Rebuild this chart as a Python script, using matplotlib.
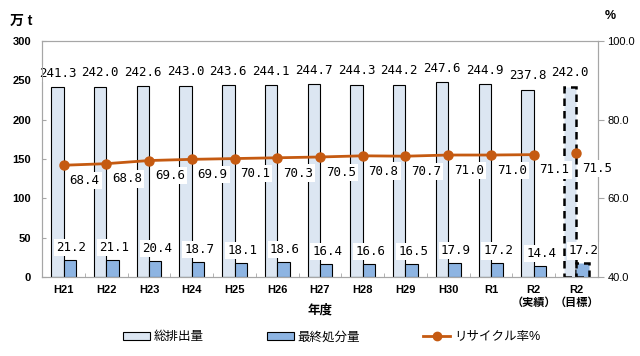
import numpy as np
import matplotlib
matplotlib.use("Agg")
import matplotlib.pyplot as plt
from matplotlib.patches import Patch
from matplotlib.lines import Line2D

years = ["H21", "H22", "H23", "H24", "H25", "H26", "H27", "H28", "H29", "H30", "R1",
         "R2\n（実績）", "R2\n（目標）"]
total = [241.3, 242.0, 242.6, 243.0, 243.6, 244.1, 244.7, 244.3, 244.2, 247.6, 244.9, 237.8, 242.0]
final = [21.2, 21.1, 20.4, 18.7, 18.1, 18.6, 16.4, 16.6, 16.5, 17.9, 17.2, 14.4, 17.2]
rate = [68.4, 68.8, 69.6, 69.9, 70.1, 70.3, 70.5, 70.8, 70.7, 71.0, 71.0, 71.1]
rate_target = 71.5

plt.rcParams["font.family"] = ["Liberation Sans", "Noto Sans CJK JP"]

c_total = "#dce6f2"
c_final = "#8db4e2"
c_line = "#c55a11"
c_spine = "#a6a6a6"
lab_font = ["DejaVu Sans Mono", "Noto Sans CJK JP"]
box = dict(facecolor="white", edgecolor="none", pad=1.5)

fig = plt.figure(figsize=(6.4, 3.56), dpi=100)
ax = fig.add_axes([0.066, 0.222, 0.868, 0.663])
ax2 = ax.twinx()

x = np.arange(len(years))
w = 0.29
n = len(years) - 1  # last one is the target

# actual bars
ax.bar(x[:n] - w / 2, total[:n], w, color=c_total, edgecolor="black", linewidth=0.8, zorder=2)
ax.bar(x[:n] + w / 2, final[:n], w, color=c_final, edgecolor="black", linewidth=0.8, zorder=2)
# target bars (dashed)
ax.bar(x[n] - w / 2, total[n], w, color=c_total, edgecolor="black", linewidth=1.8,
       linestyle=(0, (3, 2)), zorder=2)
ax.bar(x[n] + w / 2, final[n], w, color=c_final, edgecolor="black", linewidth=1.8,
       linestyle=(0, (3, 2)), zorder=2)

for i in range(len(years)):
    ax.annotate(f"{total[i]:.1f}", (x[i] - w / 2, total[i]), xytext=(0, 10),
                textcoords="offset points", ha="center", va="center", fontsize=9,
                family=lab_font, bbox=box, zorder=4)
    ax.annotate(f"{final[i]:.1f}", (x[i] + w / 2, final[i]), xytext=(1, 9),
                textcoords="offset points", ha="center", va="center", fontsize=9,
                family=lab_font, bbox=box, zorder=4)

ax.set_ylim(0, 300)
ax.set_yticks(range(0, 301, 50))
ax.set_xlim(-0.5, len(years) - 0.5)
ax.set_xticks(x)
ax.set_xticklabels(years, fontsize=8, fontweight="bold")
ax.set_xticks(np.arange(0.5, len(years) - 1, 1), minor=True)
ax.tick_params(axis="x", which="major", length=0, pad=6)
ax.tick_params(axis="x", which="minor", length=3, direction="in", color=c_spine)
ax.tick_params(axis="y", labelsize=8, length=3, direction="in", color=c_spine, pad=8)
for lab in ax.get_yticklabels():
    lab.set_fontweight("bold")

# recycle rate line
ax2.plot(x[:n], rate, color=c_line, linewidth=2, marker="o", markersize=6.5, zorder=3)
ax2.plot(x[n], rate_target, color=c_line, marker="o", markersize=6.5, zorder=3)
for i, r in enumerate(rate + [rate_target]):
    ax2.annotate(f"{r:.1f}", (x[i], r), xytext=(15, -11), textcoords="offset points",
                 ha="center", va="center", fontsize=9, family=lab_font, bbox=box, zorder=4)
ax2.set_ylim(40, 100)
ax2.set_yticks([40, 60, 80, 100])
ax2.set_yticklabels([f"{v:.1f}" for v in [40, 60, 80, 100]])
ax2.tick_params(axis="y", labelsize=8, length=4, color=c_spine, pad=3)

for a in (ax, ax2):
    for s in a.spines.values():
        s.set_color(c_spine)
        s.set_linewidth(0.8)

fig.text(0.016, 0.94, "万 t", fontsize=10, fontweight="bold", ha="left", va="center")
fig.text(0.945, 0.955, "%", fontsize=9, fontweight="bold", ha="left", va="center")
fig.text(0.5, 0.127, "年度", fontsize=9, fontweight="bold", ha="center", va="center")

handles = [Patch(facecolor=c_total, edgecolor="black", linewidth=0.8),
           Patch(facecolor=c_final, edgecolor="black", linewidth=0.8),
           Line2D([], [], color=c_line, linewidth=2, marker="o", markersize=6)]
fig.legend(handles, ["総排出量", "最終処分量", "リサイクル率%"], loc="center",
           bbox_to_anchor=(0.518, 0.052), ncol=3, frameon=False, fontsize=9,
           handlelength=2.2, handleheight=0.5, handletextpad=0.3, columnspacing=5.0)

fig.savefig("out.png", dpi=100)
